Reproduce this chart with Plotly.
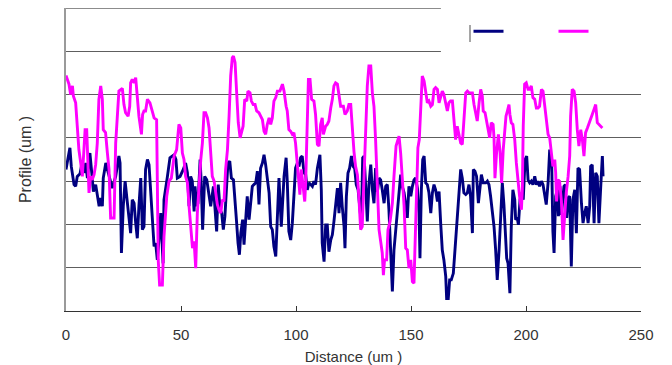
import plotly.graph_objects as go

# ---- data (Distance in um, Profile in grid units) ----
x_navy = [0.0, 1.7, 2.3, 3.5, 4.2, 4.9, 6.1, 7.1, 7.8, 8.6, 9.3, 10.4, 11.2, 11.9, 12.9, 13.6, 14.4, 15.1, 15.8, 16.2,
          17.3, 18.0, 19.4, 20.1, 21.6, 23.0, 23.5, 24.1, 24.9, 25.7, 26.7, 27.4, 28.1, 28.8, 29.6, 30.3, 31.0, 31.7, 32.5, 33.2,
          33.9, 34.6, 35.4, 36.1, 36.8, 37.5, 38.3, 39.0, 39.7, 40.4, 41.2, 42.2, 42.6, 44.1, 45.2, 47.0, 47.8,
          48.4, 49.6, 51.0, 52.0, 52.8, 53.5, 54.2, 54.9, 55.7, 56.1, 56.8, 57.4, 58.3, 58.8, 59.4, 60.3, 61.2, 62.2, 62.9, 64.1,
          64.6, 65.5, 66.2, 67.0, 67.7, 68.4, 69.1, 69.7, 70.4, 71.2, 71.9, 72.8, 73.3, 74.2, 74.8, 75.4, 76.0, 76.8, 77.4, 78.1,
          78.8, 79.6, 80.3, 81.0, 81.7, 82.5, 83.2, 83.9, 84.6, 85.4, 86.1, 86.8, 88.3, 89.0, 89.7, 90.4, 91.2, 91.9, 92.6, 93.6,
          94.8, 95.7,
          96.2, 96.9, 97.7, 98.4, 99.1, 99.8, 100.6, 101.3, 102.0, 102.7, 103.5, 104.2, 104.9, 105.6, 106.4, 107.1, 107.8, 108.5,
          109.3, 110.4, 111.0, 111.4, 112.2, 112.9, 113.6, 114.3, 115.1, 115.8, 116.5, 117.2, 118.0, 118.7, 119.4, 120.1, 120.9,
          121.3, 121.9, 122.6, 123.3, 124.1, 124.8, 125.5, 126.2, 127.0, 127.7, 128.4, 129.0, 129.6, 130.3, 131.0, 131.7, 132.5,
          133.2, 133.9, 134.6, 135.4, 136.1, 136.8, 137.5, 138.3, 139.0, 139.7, 140.4, 141.2, 141.9, 142.6, 143.5,
          144.1, 144.8, 145.5, 146.2, 147.0, 147.7, 148.4, 149.1, 149.9, 150.6, 151.3, 152.0, 152.8, 153.5, 153.9, 154.5, 155.1,
          155.7, 156.4, 157.1, 157.8, 158.6, 159.3, 160.0, 160.7, 161.5, 162.2, 162.9, 163.6, 164.3, 165.1, 165.5, 166.2, 166.8,
          167.5, 168.4, 169.1, 169.9, 170.4, 171.2, 171.6, 172.3, 173.0, 173.8, 174.5, 175.2, 175.9, 176.7, 177.1, 177.8, 178.5,
          179.3, 180.0, 180.6, 181.4, 182.5, 183.2, 183.9, 184.6, 185.4, 186.1, 186.8, 187.5, 188.3, 189.0, 189.7, 190.4, 191.3,
          191.6, 192.2, 192.6, 193.0, 193.6, 194.3, 195.1, 195.5, 196.2, 196.7, 197.4, 198.1, 198.8, 199.6, 200.3, 200.9, 201.6,
          202.3, 203.0, 203.8, 204.5, 205.2, 205.9, 206.7, 207.4, 208.1, 208.8, 209.6, 210.3, 210.7, 211.2, 211.7, 212.2, 212.9,
          213.6, 214.1, 214.8, 215.4, 216.1, 216.5, 217.1, 217.7, 218.3, 219.0, 219.7, 220.4, 221.2, 221.9, 222.6, 223.3, 224.1,
          224.8, 225.5, 226.2, 227.0, 227.7, 228.1, 228.8, 229.6, 230.3, 231.0, 231.7, 232.5, 233.2, 233.5]
y_navy = [3.27, 3.77, 3.34, 2.92, 2.88, 3.11, 3.17, 3.46, 3.19, 3.42, 3.07, 3.65, 3.19, 2.76, 2.92, 2.65, 2.42, 2.61, 2.42, 3.07,
          3.42, 3.27, 3.0, 2.84, 3.11, 3.58, 3.42, 1.34, 2.42, 3.0, 2.49, 2.11, 1.80, 2.57, 2.49, 2.03, 1.68, 2.42, 3.07, 1.88,
          1.95, 3.27, 3.5, 3.38, 2.73, 2.11, 1.49, 1.57, 1.18, 1.64, 2.26, 1.1, 2.57, 3.11, 3.54, 3.61, 3.5,
          3.07, 3.11, 3.27, 3.42, 3.19, 2.42, 3.11, 3.0, 2.3, 2.88, 2.42, 2.49, 3.5, 2.96, 1.88, 3.11, 3.03, 2.65, 2.42, 2.88,
          2.57, 1.84, 2.92, 2.34, 2.26, 1.88, 2.19, 2.88, 3.42, 3.46, 3.07, 3.03, 2.73, 2.03, 1.57, 1.3, 1.80, 2.11, 1.53, 2.11,
          2.65, 2.11, 2.49, 2.88, 2.92, 2.96, 3.23, 2.46, 3.3, 3.42, 3.61, 3.38, 2.73, 1.95, 1.88, 1.49, 1.26, 2.11, 3.07, 1.95,
          3.11, 3.54,
          3.0, 1.84, 1.64, 2.03, 2.65, 3.3, 3.42, 3.34, 3.54, 3.58, 3.19, 3.15, 2.8, 2.96, 2.92, 2.88, 3.0, 2.92,
          3.3, 3.61, 2.8, 1.57, 1.14, 1.99, 1.99, 1.37, 1.64, 1.76, 2.07, 2.42, 2.84, 2.26, 2.96, 2.42, 1.95,
          1.45, 2.65, 3.19, 3.3, 3.58, 3.34, 3.3, 2.92, 2.8, 2.42, 2.03, 3.54, 3.58, 2.88, 2.07, 2.92, 3.38,
          2.8, 2.49, 3.3, 2.76, 3.07, 3.03, 2.8, 2.49, 2.88, 2.92, 2.34, 1.41, 0.45, 1.41, 1.95,
          2.26, 2.65, 3.15, 2.88, 2.73, 2.46, 2.15, 2.88, 2.65, 2.88, 3.03, 3.07, 2.84, 2.26, 1.22, 2.8, 3.5,
          3.58, 2.96, 2.92, 2.73, 2.26, 2.73, 2.92, 2.8, 2.53, 2.76, 2.03, 1.41, 1.18, 0.8, 0.29, 0.29, 0.72,
          0.72, 0.87, 1.41, 2.03, 2.49, 2.96, 3.27, 3.07, 2.73, 2.69, 2.73, 2.92, 2.65, 1.8, 3.27, 3.23, 3.11,
          2.49, 2.88, 3.15, 2.96, 2.96, 3.0, 2.92, 2.65, 2.26, 1.95, 1.41, 0.72, 1.41, 2.34, 2.96, 2.46, 1.26,
          1.22, 1.1, 0.72, 0.41, 1.95, 2.8, 2.57, 2.11, 2.15, 1.99, 2.57, 2.73, 2.57, 3.5, 3.58, 3.03, 2.96,
          3.0, 2.92, 3.11, 2.92, 3.0, 2.88, 3.0, 2.92, 2.73, 2.46, 2.96, 3.73, 3.5, 3.34, 1.84, 1.34, 2.65,
          2.8, 2.19, 2.88, 2.22, 2.65, 2.88, 2.92, 2.15, 2.61, 2.65, 1.03, 2.57, 2.8, 1.8, 3.3, 3.27, 2.49,
          2.03, 2.26, 2.42, 2.03, 2.42, 3.34, 3.38, 2.03, 3.19, 3.11, 2.03, 2.88, 3.58, 3.11]

x_magenta = [0.0, 1.3, 2.0, 2.8, 3.2, 4.2, 4.9, 5.6, 6.4, 7.1, 7.8, 8.3, 9.0, 9.6, 10.0, 10.7, 11.4, 12.2, 12.9, 13.6,
             14.3, 15.1, 15.8, 16.2, 17.2, 18.0, 18.7, 19.4, 20.9, 21.6, 22.3, 23.0, 24.5, 25.2, 25.9, 27.0, 27.7, 28.1, 28.8,
             29.6, 30.3, 31.0, 31.7, 32.8, 33.3, 33.9, 34.6, 35.4, 36.5, 37.5, 38.3, 39.4, 40.1, 40.7, 41.9, 42.6, 43.8, 44.8,
             45.8, 47.0,
             48.1, 49.1, 49.9, 50.6, 51.3, 52.0, 52.8, 53.5, 54.2, 55.0, 55.7, 56.4, 57.1, 57.8, 58.6, 59.3, 60.0, 60.7, 61.5,
             62.2, 62.9, 63.6, 64.4, 65.1, 65.8, 66.5, 67.3, 68.0, 68.7, 69.4, 70.2, 70.9, 71.6, 72.3, 72.8, 73.5, 74.2, 74.9,
             75.7, 76.4, 77.0, 77.7, 78.6, 79.1, 80.0, 80.6, 81.4, 82.2, 82.9, 83.9, 84.6, 85.4, 86.1, 86.8, 87.5, 88.3, 89.0,
             89.7, 90.4, 91.2, 91.9, 93.0, 94.1, 94.8, 95.7,
             96.2, 96.9, 97.7, 98.4, 99.1, 99.8, 100.6, 101.3, 101.7, 102.3, 103.0, 103.8, 104.2, 104.9, 105.4, 106.1, 106.8,
             107.8, 108.5, 109.3, 110.0, 110.7, 111.4, 111.9, 112.9, 113.6, 114.3, 115.1, 115.8, 116.5, 117.2, 118.0, 118.7,
             119.4, 120.6, 121.3, 122.3, 123.0, 123.8, 124.5, 125.2, 125.9, 126.7, 127.4, 128.1, 128.8, 129.6, 130.3, 131.0,
             131.7, 132.5, 133.2, 133.9, 134.6, 135.4, 136.1, 136.8, 137.5, 138.0, 138.5, 139.4, 140.0, 140.9, 141.9, 142.6,
             143.5,
             144.1, 144.8, 145.5, 146.2, 147.0, 147.7, 148.4, 149.1, 149.9, 150.6, 151.3, 151.7, 152.5, 153.0, 153.6, 154.2,
             154.9, 155.7, 156.4, 157.1, 157.8, 158.6, 159.3, 160.0, 160.7, 161.5, 162.2, 162.9, 163.6, 164.3, 165.1, 165.8,
             166.5, 167.2, 168.0, 168.4, 169.0, 169.4, 170.1, 170.9, 171.6, 172.3, 173.0, 173.8, 174.5, 175.2, 175.9, 176.7,
             177.4, 178.1, 178.8, 179.6, 180.3, 181.0, 181.4, 182.2, 182.9, 183.6, 184.2, 184.9, 185.7, 186.1, 186.5, 187.2,
             188.0, 188.7, 189.4, 190.1, 190.9, 191.3,
             191.9, 192.6, 193.0, 193.6, 194.3, 195.1, 195.8, 196.5, 197.2, 198.0, 198.4, 198.8, 199.4, 200.1, 200.9, 201.6,
             202.3, 203.0, 203.8, 204.5, 205.2, 205.9, 206.7, 207.4, 208.1, 208.8, 209.6, 210.3, 211.0, 211.7, 212.5, 212.9,
             213.3, 213.9, 214.6, 215.4, 216.1, 216.8, 217.5, 218.3, 219.0, 219.4, 220.1, 220.9, 221.6, 222.3, 223.0, 223.8,
             224.5, 225.2, 225.9, 226.7, 227.4, 228.1, 228.8, 229.6, 230.3, 231.0, 231.7, 232.5, 233.2]
y_magenta = [5.44, 5.24, 5.0, 5.2, 4.97, 4.81, 4.27, 3.73, 3.42, 3.11, 3.73, 4.19, 4.19, 3.42, 2.73, 3.11, 3.03, 3.15, 3.38, 3.88,
             4.89, 5.2, 4.89, 4.19, 4.12, 3.65, 3.27, 2.15, 2.15, 3.88, 4.5, 5.08, 5.14, 4.77, 4.58, 4.5, 4.73, 5.27, 5.35,
             5.27, 5.39, 4.97, 4.5, 4.08, 4.54, 4.62, 4.62, 4.89, 4.81, 4.62, 4.46, 4.42, 1.18, 0.6, 0.6, 1.72, 2.65, 3.0,
             3.07, 3.58,
             3.73, 4.31, 4.23, 3.65, 3.5, 3.11, 2.96, 2.42, 2.03, 1.45, 1.61, 0.99, 2.26, 2.88, 3.5, 3.88, 4.58, 4.58, 4.46,
             4.23, 3.5, 3.11, 3.0, 2.65, 2.46, 2.34, 2.26, 2.57, 2.53, 3.27, 3.73, 4.5, 5.43, 5.85, 5.89, 5.74, 5.04, 4.35,
             4.0, 4.19, 4.27, 4.89, 4.85, 5.08, 5.04, 4.85, 4.77, 4.77, 4.62, 4.58, 4.5, 4.42, 4.15, 4.08, 4.31, 4.46, 4.31,
             4.46, 4.85, 4.93, 5.08, 5.08, 5.24, 5.08, 4.73,
             4.62, 4.19, 4.15, 4.08, 4.12, 3.88, 3.34, 2.96, 2.69, 3.27, 2.96, 2.53, 2.96, 4.66, 5.35, 5.35, 4.89,
             4.85, 4.54, 3.85, 3.81, 4.31, 4.46, 4.08, 4.27, 4.31, 4.39, 4.69, 4.89, 5.2, 5.27, 5.24, 4.97,
             4.73, 4.73, 4.54, 4.62, 4.77, 4.77, 4.19, 3.69, 3.34, 3.15, 2.57, 1.88, 1.95, 3.11, 4.42, 5.2,
             5.66, 5.66, 5.04, 4.73, 3.96, 2.73, 1.88, 1.61, 1.34, 0.83, 1.18, 1.18, 1.88, 2.07, 2.49, 3.11,
             3.81,
             3.92, 4.04, 3.65, 3.07, 2.42, 1.45, 1.41, 0.99, 1.18, 0.68, 0.64, 1.41, 2.8, 3.77, 3.96, 4.81,
             5.43, 5.31, 5.0, 4.81, 4.85, 4.73, 4.77, 5.12, 5.16, 5.12, 4.81, 4.93, 5.08, 5.0, 4.77, 4.62,
             4.81, 4.85, 4.85, 4.58, 4.39, 3.96, 4.27, 4.04, 3.88, 3.85, 4.42, 5.04, 5.08, 5.04, 5.04, 5.04,
             4.77, 4.58, 4.39, 4.81, 5.12, 4.97, 4.62, 4.58, 4.39, 4.23, 4.0, 4.35, 4.31, 4.0, 3.07, 3.65,
             4.08, 3.69, 2.96, 3.73, 4.35, 4.5,
             4.62, 4.77, 4.54, 4.35, 4.31, 3.96, 3.42, 3.0, 2.65, 2.34, 2.8, 4.27, 5.24, 5.27, 5.12, 5.12,
             5.2, 4.93, 4.89, 4.69, 4.69, 4.73, 5.12, 5.08, 4.73, 4.5, 4.08, 4.0, 3.65, 3.34, 3.5, 3.19,
             2.53, 3.03, 3.0, 2.53, 1.64, 2.34, 2.73, 3.11, 3.58, 4.5, 5.12, 5.08, 4.81, 4.19, 3.81, 4.19,
             3.96, 3.58, 4.12, 4.23, 4.35, 4.42, 4.54, 4.66, 4.77, 4.35, 4.31, 4.27, 4.23]

x_ticks = [0, 50, 100, 150, 200, 250]
y_top = 7
x_title = "Distance (um )"
y_title = "Profile (um )"

assert len(x_navy) == len(y_navy), (len(x_navy), len(y_navy))
assert len(x_magenta) == len(y_magenta), (len(x_magenta), len(y_magenta))

font_family = "Liberation Sans, Arial, sans-serif"

fig = go.Figure()
fig.add_trace(go.Scatter(x=x_navy, y=y_navy, mode="lines", name=" ",
                         line=dict(color="#000080", width=2.9)))
fig.add_trace(go.Scatter(x=x_magenta, y=y_magenta, mode="lines", name=" ",
                         line=dict(color="#FF00FF", width=2.9)))

fig.update_layout(
    width=672, height=365,
    margin=dict(l=66, r=31, t=8, b=54, autoexpand=False),
    paper_bgcolor="white", plot_bgcolor="white",
    font=dict(family=font_family, size=14, color="#333333"),
    showlegend=True,
    legend=dict(orientation="h", x=0.7, y=0.971, xanchor="left", yanchor="top",
                bgcolor="rgba(0,0,0,0)", itemwidth=30, entrywidth=40,
                font=dict(size=12)),
    shapes=[
        # top border of plot area (range edge gridline)
        dict(type="line", xref="paper", yref="y", x0=0, x1=1, y0=y_top, y1=y_top,
             line=dict(color="#8c8c8c", width=2), layer="below"),
        # white legend panel hiding the grid in the top-right corner
        dict(type="rect", xref="paper", yref="paper", x0=0.652, x1=1.03, y0=0.848, y1=1.03,
             fillcolor="white", line=dict(width=0), layer="above"),
        # visible fragment of the legend frame
        dict(type="line", xref="paper", yref="paper", x0=0.7026, x1=0.7026, y0=0.888, y1=0.944,
             line=dict(color="#888888", width=1.5), layer="above"),
    ],
)
fig.update_xaxes(range=[0, 250], tickvals=x_ticks, ticks="inside", ticklen=5, tickcolor="#333333",
                 showline=True, linecolor="#333333", linewidth=1, showgrid=False, zeroline=False,
                 automargin=False,
                 ticklabelstandoff=10, tickfont=dict(size=15, color="#333333"),
                 title=dict(text=x_title, font=dict(size=15, color="#333333"), standoff=9))
fig.update_yaxes(range=[0, 7], dtick=1, showgrid=True, gridcolor="#5e5e5e", gridwidth=1,
                 showline=True, linecolor="#9a9a9a", linewidth=2, showticklabels=False, ticks="",
                 zeroline=False, automargin=False,
                 title=dict(text=y_title, font=dict(size=16, color="#333333"), standoff=28))

fig.write_html("out.html")
